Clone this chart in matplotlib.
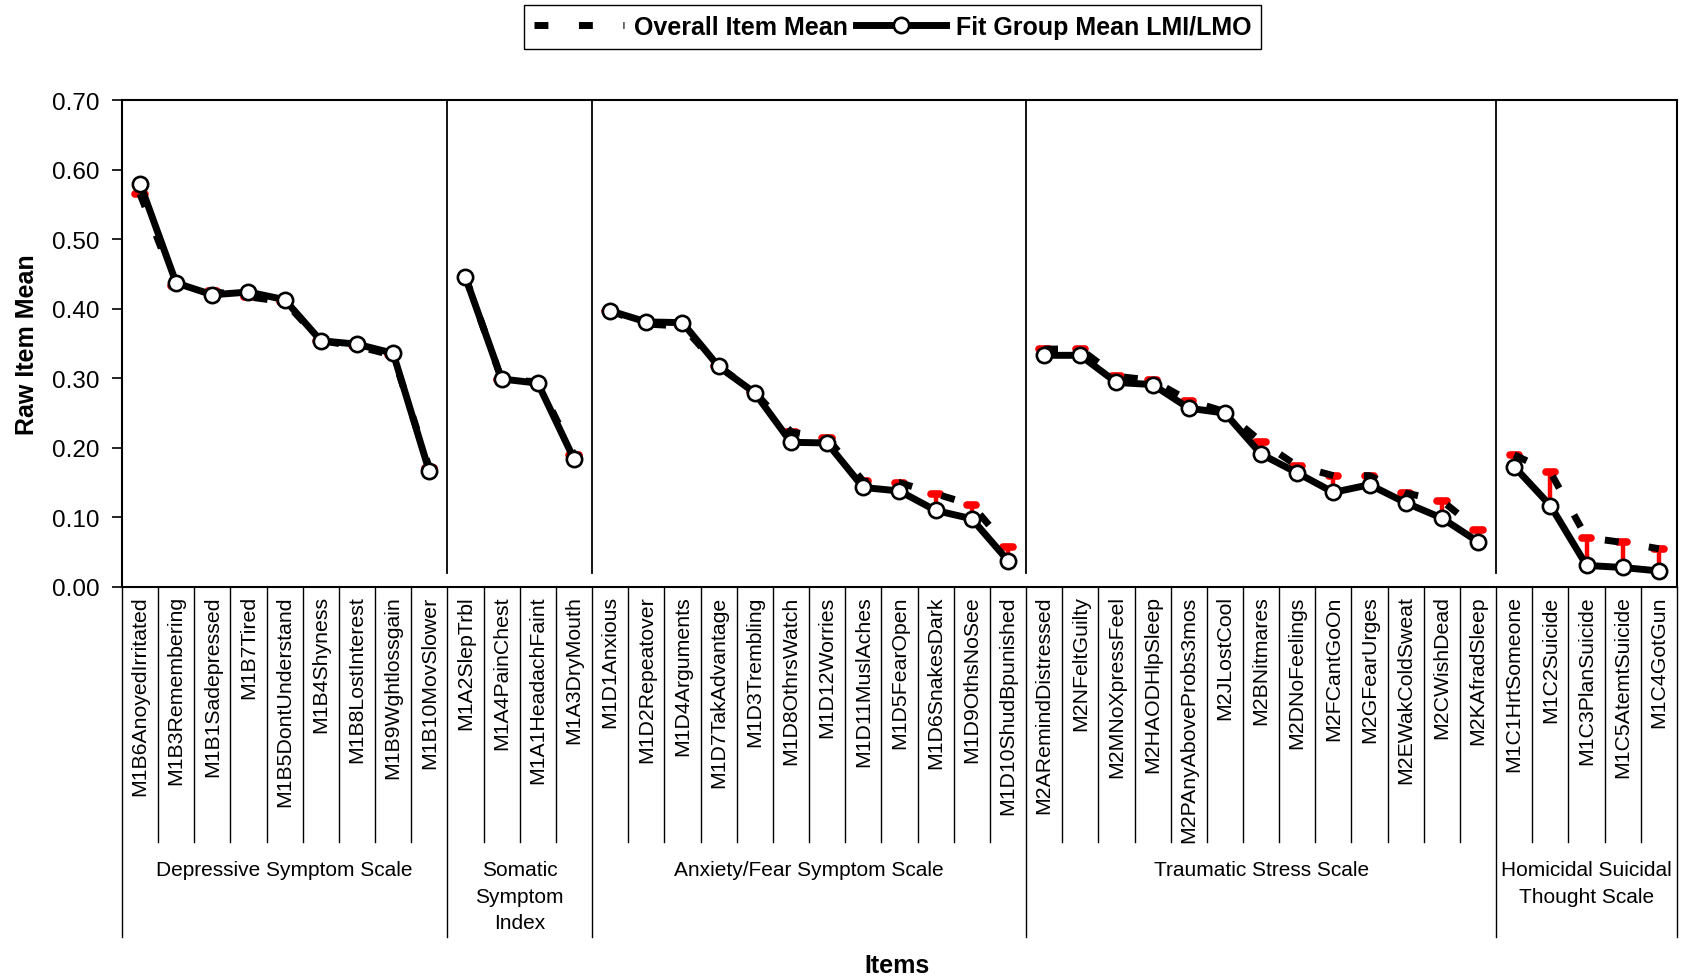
import matplotlib
matplotlib.use('Agg')
import matplotlib.pyplot as plt
from matplotlib.ticker import FormatStrFormatter
import numpy as np

plt.rcParams['font.family'] = ['Liberation Sans', 'DejaVu Sans']

# scales and the items that belong to each, in plotting order
scales = ['Depressive Symptom Scale', 'Somatic\nSymptom\nIndex', 'Anxiety/Fear Symptom Scale',
	'Traumatic Stress Scale', 'Homicidal Suicidal\nThought Scale']
scale_sizes = [9, 4, 12, 13, 5]

items = [
	'M1B6AnoyedIrritated', 'M1B3Remembering', 'M1B1Sadepressed', 'M1B7Tired', 'M1B5DontUnderstand',
	'M1B4Shyness', 'M1B8LostInterest', 'M1B9Wghtlossgain', 'M1B10MovSlower',
	'M1A2SlepTrbl', 'M1A4PainChest', 'M1A1HeadachFaint', 'M1A3DryMouth',
	'M1D1Anxious', 'M1D2Repeatover', 'M1D4Arguments', 'M1D7TakAdvantage', 'M1D3Trembling',
	'M1D8OthrsWatch', 'M1D12Worries', 'M1D11MuslAches', 'M1D5FearOpen', 'M1D6SnakesDark',
	'M1D9OthsNoSee', 'M1D10ShudBpunished',
	'M2ARemindDistressed', 'M2NFeltGuilty', 'M2MNoXpressFeel', 'M2HAODHlpSleep',
	'M2PAnyAboveProbs3mos', 'M2JLostCool', 'M2BNitmares', 'M2DNoFeelings', 'M2FCantGoOn',
	'M2GFearUrges', 'M2EWakColdSweat', 'M2CWishDead', 'M2KAfradSleep',
	'M1C1HrtSomeone', 'M1C2Suicide', 'M1C3PlanSuicide', 'M1C5AtemtSuicide', 'M1C4GotGun',
]

overall_mean = [
	0.565, 0.432, 0.425, 0.417, 0.410, 0.354, 0.346, 0.333, 0.171,
	0.446, 0.298, 0.295, 0.190,
	0.397, 0.378, 0.375, 0.317, 0.280, 0.223, 0.214, 0.152, 0.150, 0.134, 0.118, 0.057,
	0.342, 0.342, 0.303, 0.297, 0.268, 0.252, 0.209, 0.174, 0.160, 0.160, 0.135, 0.124, 0.082,
	0.190, 0.165, 0.071, 0.064, 0.055,
]

fit_mean = [
	0.580, 0.437, 0.420, 0.424, 0.413, 0.354, 0.349, 0.336, 0.166,
	0.445, 0.299, 0.293, 0.184,
	0.397, 0.381, 0.380, 0.317, 0.279, 0.208, 0.207, 0.143, 0.138, 0.110, 0.098, 0.038,
	0.333, 0.333, 0.294, 0.291, 0.257, 0.250, 0.191, 0.164, 0.136, 0.147, 0.121, 0.099, 0.065,
	0.173, 0.117, 0.031, 0.028, 0.023,
]

fig = plt.figure(figsize=(16.91, 9.78), dpi=100)
ax = fig.add_axes([0.0721, 0.3988, 0.9196, 0.4979])

x = np.arange(len(items))
ov = np.array(overall_mean)
fm = np.array(fit_mean)

# red bars from the fit group mean up (or down) to the overall mean
ax.vlines(x, fm, ov, color='red', lw=3.2, zorder=2)
caps = ax.hlines(ov, x - 0.13, x + 0.13, color='red', lw=5.5, zorder=2)
caps.set_capstyle('round')

# one line segment per scale, no connection across scales
bounds = np.concatenate([[0], np.cumsum(scale_sizes)])
for i in range(len(scale_sizes)):
	a, b = bounds[i], bounds[i + 1]
	l1, = ax.plot(x[a:b], ov[a:b], color='black', lw=5, dashes=(2.0, 4.4), zorder=3)
	l2, = ax.plot(x[a:b], fm[a:b], color='black', lw=5, marker='o', ms=11,
		mfc='white', mec='black', mew=1.9, zorder=4)

ax.set_xlim(-0.5, len(items) - 0.5)
ax.set_ylim(0, 0.70)
ax.set_yticks(np.arange(0, 0.71, 0.1))
ax.yaxis.set_major_formatter(FormatStrFormatter('%.2f'))
ax.tick_params(axis='y', labelsize=17.5, length=7, width=1.2, direction='out', pad=9)

ax.set_xticks(x)
ax.set_xticklabels(items, rotation=90, fontsize=15.3)
ax.tick_params(axis='x', length=0, pad=6)

for s in ax.spines.values():
	s.set_linewidth(1.5)

# scale dividers inside the plot
for bd in bounds[1:-1]:
	ax.plot([bd - 0.5, bd - 0.5], [0.02, 0.70], color='black', lw=1.3, zorder=1)

# category table under the axis
trans = ax.get_xaxis_transform()
for k in range(len(items) + 1):
	depth = -0.719 if k in bounds else -0.524
	ax.plot([k - 0.5, k - 0.5], [0, depth], transform=trans, color='black', lw=1, clip_on=False)

for i, name in enumerate(scales):
	center = (bounds[i] + bounds[i + 1] - 1) / 2
	ax.text(center, -0.561, name, transform=trans, ha='center', va='top', fontsize=15,
		linespacing=1.5)

ax.set_ylabel('Raw Item Mean', fontsize=18, fontweight='bold', va='center')
ax.yaxis.set_label_coords(-0.061, 0.5)
ax.set_xlabel('Items', fontsize=18, fontweight='bold', va='center')
ax.xaxis.set_label_coords(0.4987, -0.776)

leg = fig.legend([l1, l2], ['Overall Item Mean', 'Fit Group Mean LMI/LMO'], loc='upper center',
	bbox_to_anchor=(0.528, 0.994), borderaxespad=0, ncol=2, fancybox=False, edgecolor='black',
	framealpha=1, prop={'weight': 'bold', 'size': 18}, handlelength=3.6, columnspacing=0.3,
	handletextpad=0.4, borderpad=0.4)
leg.get_frame().set_linewidth(1)

fig.savefig('out.png', dpi=100)
